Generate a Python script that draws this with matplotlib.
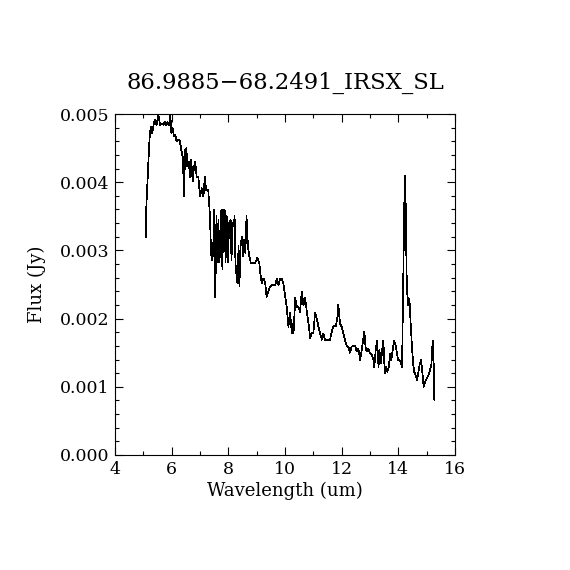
import matplotlib
matplotlib.use("Agg")
import matplotlib.pyplot as plt
from matplotlib.ticker import MultipleLocator, FormatStrFormatter

title = "86.9885\u221268.2491_IRSX_SL"
xlabel = "Wavelength (um)"
ylabel = "Flux (Jy)"

wavelength = [
    5.09, 5.10, 5.15, 5.20, 5.235, 5.27, 5.31, 5.36, 5.40, 5.47, 5.53, 5.59, 5.65,
    5.71, 5.76, 5.81, 5.86, 5.91, 5.95, 5.99, 6.04, 6.08, 6.13, 6.17, 6.24, 6.29,
    6.34, 6.39, 6.44, 6.47, 6.52, 6.55, 6.60, 6.65, 6.69, 6.74, 6.79, 6.83, 6.88,
    6.94, 7.00, 7.06, 7.12, 7.17, 7.21, 7.29, 7.35, 7.39, 7.42, 7.46, 7.48, 7.50,
    7.54, 7.58, 7.61, 7.65, 7.68, 7.72, 7.75, 7.79, 7.82, 7.87, 7.90, 7.94, 7.98,
    8.03, 8.08, 8.11, 8.15, 8.19, 8.22, 8.25, 8.29, 8.32, 8.36, 8.39, 8.43, 8.48,
    8.51, 8.56, 8.60, 8.64, 8.69, 8.74, 8.79, 8.88, 8.95, 9.02, 9.09,
    9.12, 9.18, 9.24, 9.30, 9.35, 9.41, 9.47, 9.53, 9.65, 9.71, 9.77, 9.83, 9.88,
    9.94, 10.00, 10.06, 10.12, 10.18, 10.24, 10.27, 10.30, 10.36, 10.42, 10.48,
    10.53, 10.59, 10.65, 10.71, 10.77, 10.83, 10.89, 10.94, 11.00, 11.06, 11.12,
    11.18, 11.24, 11.30, 11.35, 11.41, 11.47, 11.59, 11.65, 11.71, 11.80, 11.85,
    11.88, 11.94, 12.00, 12.06, 12.12, 12.18, 12.24, 12.29, 12.35, 12.41, 12.47,
    12.53, 12.59, 12.65, 12.71, 12.77, 12.80, 12.84, 12.88, 12.94, 13.00, 13.06,
    13.12, 13.15, 13.20, 13.25, 13.30, 13.33, 13.38, 13.43, 13.47, 13.52, 13.57,
    13.61, 13.66, 13.71, 13.75, 13.80, 13.85, 13.90, 13.94, 13.99, 14.04, 14.08,
    14.13, 14.15, 14.18, 14.21, 14.24, 14.26, 14.29, 14.33, 14.36, 14.40, 14.43,
    14.48, 14.52, 14.56, 14.61, 14.66, 14.71, 14.75, 14.80, 14.85, 14.89, 14.94,
    15.00, 15.06, 15.12, 15.17, 15.20, 15.23, 15.25, 15.27,
]

flux = [
    0.00320, 0.00359, 0.00403, 0.00450, 0.00474, 0.00481, 0.00472, 0.00484, 0.00491,
    0.00484, 0.00499, 0.00484, 0.00486, 0.00484, 0.00489, 0.00484, 0.00488, 0.00484,
    0.00499, 0.00472, 0.00479, 0.00467, 0.00469, 0.00460, 0.00462, 0.00460, 0.00447,
    0.00437, 0.00379, 0.00447, 0.00450, 0.00423, 0.00430, 0.00408, 0.00433, 0.00401,
    0.00423, 0.00430, 0.00408, 0.00408, 0.00379, 0.00391, 0.00379, 0.00408, 0.00389,
    0.00389, 0.00350, 0.00296, 0.00286, 0.00311, 0.00291, 0.00359, 0.00231, 0.00350,
    0.00282, 0.00345, 0.00282, 0.00306, 0.00359, 0.00272, 0.00359, 0.00359, 0.00282,
    0.00350, 0.00282, 0.00340, 0.00345, 0.00286, 0.00340, 0.00335, 0.00350, 0.00282,
    0.00262, 0.00252, 0.00306, 0.00247, 0.00306, 0.00320, 0.00291, 0.00316, 0.00296,
    0.00350, 0.00306, 0.00291, 0.00282, 0.00282, 0.00282, 0.00289, 0.00282,
    0.00269, 0.00252, 0.00259, 0.00252, 0.00232, 0.00239, 0.00247, 0.00249, 0.00249,
    0.00259, 0.00249, 0.00259, 0.00259, 0.00252, 0.00235, 0.00217, 0.00188, 0.00208,
    0.00178, 0.00193, 0.00178, 0.00230, 0.00217, 0.00217, 0.00210, 0.00239, 0.00220,
    0.00230, 0.00210, 0.00193, 0.00171, 0.00179, 0.00179, 0.00208, 0.00200, 0.00188,
    0.00178, 0.00169, 0.00178, 0.00169, 0.00169, 0.00169, 0.00181, 0.00189, 0.00189,
    0.00203, 0.00220, 0.00193, 0.00188, 0.00178, 0.00168, 0.00159, 0.00158, 0.00150,
    0.00159, 0.00160, 0.00160, 0.00152, 0.00156, 0.00139, 0.00154, 0.00173, 0.00181,
    0.00159, 0.00152, 0.00156, 0.00149, 0.00147, 0.00139, 0.00129, 0.00154, 0.00168,
    0.00129, 0.00154, 0.00134, 0.00154, 0.00168, 0.00120, 0.00129, 0.00122, 0.00129,
    0.00149, 0.00139, 0.00154, 0.00168, 0.00161, 0.00152, 0.00139, 0.00139, 0.00137,
    0.00129, 0.00188, 0.00288, 0.00369, 0.00410, 0.00362, 0.00266, 0.00220, 0.00230,
    0.00222, 0.00196, 0.00159, 0.00134, 0.00122, 0.00117, 0.00110, 0.00122, 0.00132,
    0.00139, 0.00120, 0.00100, 0.00107, 0.00112, 0.00117, 0.00125, 0.00134, 0.00159,
    0.00168, 0.00125, 0.00081,
]

x_range = (4, 16)
y_range = (0.0, 0.005)

plt.rcParams['font.family'] = ['DejaVu Serif']

fig = plt.figure(figsize=(5.7, 5.7), dpi=100)
ax = fig.add_axes([0.2018, 0.2018, 0.5965, 0.5982])
ax.plot(wavelength, flux, color='black', linewidth=0.5, antialiased=False)

ax.set_xlim(*x_range)
ax.set_ylim(*y_range)
ax.xaxis.set_major_locator(MultipleLocator(2))
ax.xaxis.set_minor_locator(MultipleLocator(1))
ax.yaxis.set_major_locator(MultipleLocator(0.001))
ax.yaxis.set_minor_locator(MultipleLocator(0.0002))
ax.yaxis.set_major_formatter(FormatStrFormatter('%.3f'))
ax.tick_params(which='both', direction='in', top=True, right=True, width=0.8,
               labelsize=12.5, pad=4)
ax.tick_params(which='major', length=6)
ax.tick_params(which='minor', length=3)
for s in ax.spines.values():
    s.set_linewidth(0.8)

ax.set_xlabel(xlabel, fontsize=13, labelpad=3)
ax.set_ylabel(ylabel, fontsize=13, labelpad=10)
ax.set_title(title, fontsize=16.4, pad=18)

fig.savefig("out.png", dpi=100, facecolor='white')
